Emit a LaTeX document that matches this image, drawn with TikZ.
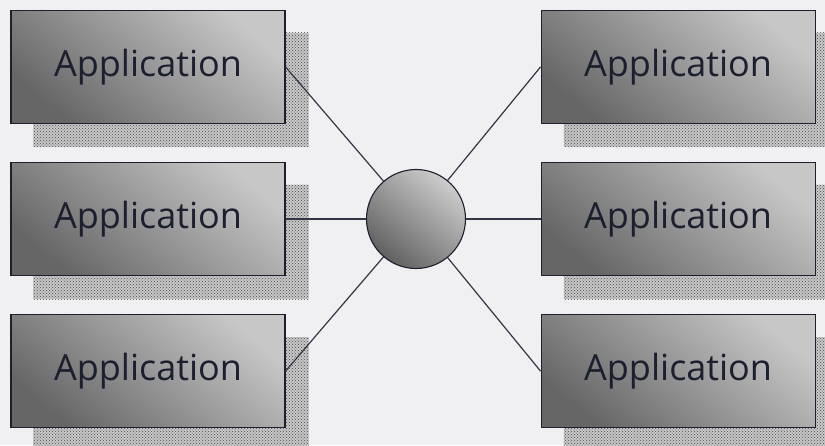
\documentclass[tikz,border=0pt]{standalone}
\usepackage{fontspec}
\setmainfont{Open Sans}
\usetikzlibrary{positioning,patterns,backgrounds}
\definecolor{ink}{HTML}{1B1F2E}
\definecolor{paper}{HTML}{F0F0F2}
\begin{document}
\begin{tikzpicture}[
 x=1pt,y=1pt,
 node distance=38pt and 255pt,
 app/.style={draw=ink,line width=1.1pt,minimum width=274pt,minimum height=113pt,inner sep=0pt,
  top color=black!22,bottom color=black!60,shading angle=-40,text=ink,font=\fontsize{36}{40}\selectfont},
 hub/.style={circle,draw=ink,line width=1.1pt,minimum size=99pt,inner sep=0pt,
  top color=black!20,bottom color=black!62,shading angle=-40},
 link/.style={draw=ink!90,line width=1.2pt},
 dots/.style={preaction={fill=black!22},pattern=crosshatch dots,pattern color=black!70}
]
\useasboundingbox (0,0) rectangle (825,445);
\node[app] (lmid) at (148,226) {Application};
\node[app,above=of lmid] (ltop) {Application};
\node[app,below=of lmid] (lbot) {Application};
\node[app,right=of lmid] (rmid) {Application};
\node[app,above=of rmid] (rtop) {Application};
\node[app,below=of rmid] (rbot) {Application};
\node[hub] (bus) at (416,226) {};
% shadows and page
\begin{scope}[on background layer]
\fill[paper] (0,0) rectangle (825,445);
\foreach \n in {ltop,lmid,lbot,rtop,rmid,rbot}
  \fill[dots] ([shift={(23pt,-23pt)}]\n.south west) rectangle ([shift={(23pt,-23pt)}]\n.north east);
\end{scope}
\foreach \n in {ltop,lmid,lbot} \draw[link] (\n.east) -- (bus);
\foreach \n in {rtop,rmid,rbot} \draw[link] (\n.west) -- (bus);
\end{tikzpicture}
\end{document}
